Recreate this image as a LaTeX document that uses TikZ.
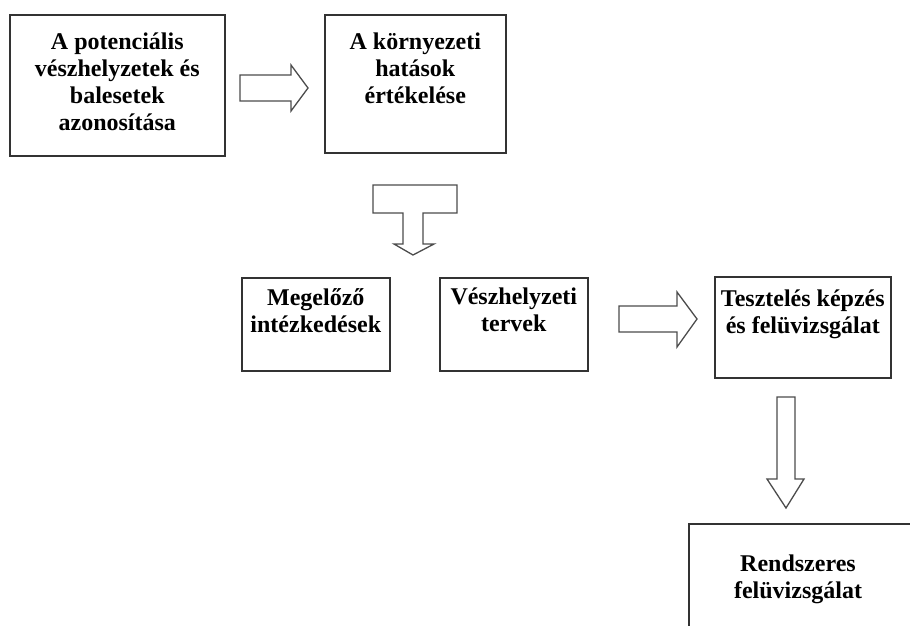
\documentclass[tikz,border=0pt]{standalone}
\usepackage{fontspec}
\setmainfont{Liberation Serif}
\usetikzlibrary{positioning}

\begin{document}
\begin{tikzpicture}[x=1pt,y=-1pt,
  box/.style={draw=black!80,line width=1.6pt,inner sep=0pt,anchor=north west},
  boxtext/.style={align=center,inner sep=0pt,anchor=north,
    font=\fontsize{24}{27}\selectfont\bfseries},
  blockarrow/.style={draw=black!70,line width=1.3pt,line join=miter,fill=white}]
				\useasboundingbox (0,0) rectangle (910,625);
				\clip (0,0) rectangle (910,625);
				
				% Dobozok
				\node[box,minimum width=215pt,minimum height=141pt] (azonositas) at (9,14) {};
				\node[boxtext,below=19pt of azonositas.north] (azonositasszoveg) {A potenciális\\vészhelyzetek és\\balesetek\\azonosítása};
				
				\node[box,minimum width=181pt,minimum height=138pt] (ertekeles) at (324,14) {};
				\node[boxtext,below=19pt of ertekeles.north] (ertekelesszoveg) {A környezeti\\hatások\\értékelése};
				
				\node[box,minimum width=148pt,minimum height=93pt] (megelozo) at (241,277) {};
				\node[boxtext,below=11pt of megelozo.north] (megelozoszoveg) {Megelőző\\intézkedések};
				
				\node[box,minimum width=148pt,minimum height=93pt] (tervek) at (439,277) {};
				\node[boxtext,below=11pt of tervek.north] (tervekszoveg) {Vészhelyzeti\\tervek};
				
				\node[box,minimum width=176pt,minimum height=101pt] (teszteles) at (714,276) {};
				\node[boxtext,below=14pt of teszteles.north] (tesztelesszoveg) {Tesztelés képzés\\és felüvizsgálat};
				
				\node[box,minimum width=260pt,minimum height=130pt] (rendszeres) at (688,523) {};
				\node[boxtext] (rendszeresszoveg) at (798,555) {Rendszeres\\felüvizsgálat};
				
				% Nyilak
				\draw[blockarrow] (240,75) -- (291,75) -- (291,65) -- (308,88) -- (291,111) -- (291,101) -- (240,101) -- cycle;
				
				\draw[blockarrow] (373,185) -- (457,185) -- (457,213) -- (423,213) -- (423,244) -- (434,244)
				-- (413,255) -- (394,244) -- (403,244) -- (403,213) -- (373,213) -- cycle;
				
				\draw[blockarrow] (619,306) -- (677,306) -- (677,292) -- (697,319) -- (677,347) -- (677,332) -- (619,332) -- cycle;
				
				\draw[blockarrow] (777,397) -- (795,397) -- (795,479) -- (804,479) -- (786,508) -- (767,479) -- (777,479) -- cycle;
				
			\end{tikzpicture}
\end{document}
